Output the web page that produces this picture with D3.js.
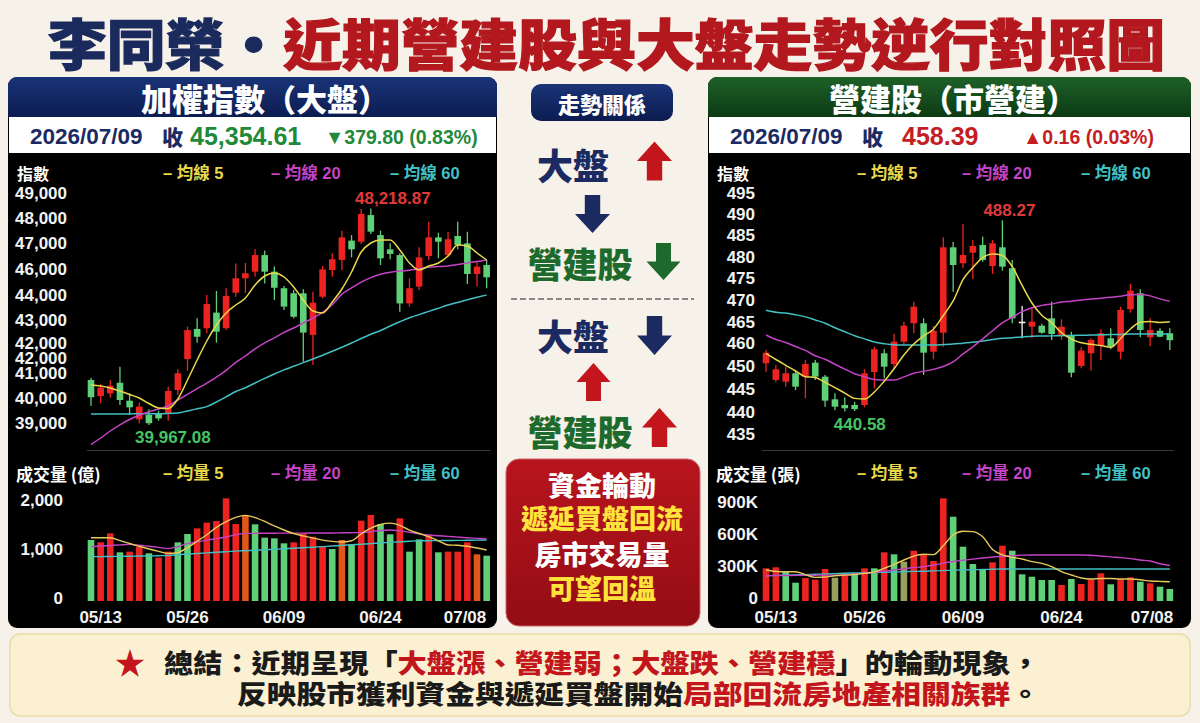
<!DOCTYPE html>
<html><head><meta charset="utf-8">
<script src="https://cdn.jsdelivr.net/npm/d3@7"></script>
<style>
html,body{margin:0;padding:0;background:#f6f2e9;}
svg{display:block;}
</style></head><body>
<svg id="c" width="1200" height="723"></svg>
<script>
// ---------------- DATA ----------------
const dates = ["05/12","05/13","05/14","05/15","05/18","05/19","05/20","05/21","05/22","05/25","05/26","05/27","05/28","05/29","06/01","06/02","06/03","06/04","06/05","06/08","06/09","06/10","06/11","06/12","06/15","06/16","06/17","06/18","06/22","06/23","06/24","06/25","06/26","06/29","06/30","07/01","07/02","07/03","07/06","07/07","07/08","07/09"];
const xTickLabels = ["05/13","05/26","06/09","06/24","07/08"];

// 加權指數 (TAIEX)
const taiexOpen  = [40870,40170,40290,40750,39970,39160,39350,39390,39420,40435,41780,43090,43120,43800,43120,44665,45290,45580,46300,45580,44860,44640,44640,42830,44490,45650,46090,46930,46880,48040,47170,46550,46300,44200,44930,46260,47070,46300,47130,46810,45480,45870];
const taiexHigh  = [40960,40700,40870,41450,40290,39880,39600,39535,40580,41335,43190,43550,44565,44740,44860,45940,45960,46550,46490,45800,44960,44780,44810,44710,45830,46380,47360,47170,48300,48330,47360,46810,46380,45290,46640,47750,47270,47320,47750,47320,46010,46090];
const taiexLow   = [39740,39860,40100,39780,39350,38990,38910,39100,39100,40220,41270,42490,42900,42490,43040,44490,44650,45360,45070,44350,43910,43550,41665,41520,44420,45360,45650,46200,46780,47220,45870,46120,43840,44060,44780,46090,46160,46230,46550,45040,44930,44860];
const taiexClose = [40120,40535,40620,40000,39680,39710,38990,39200,40390,41160,43040,42750,44170,42970,44520,45290,45510,46300,45580,44880,44060,43620,42930,44230,45680,46120,47070,46550,48090,47320,46160,46350,44200,44860,46200,47070,46880,46990,46740,45480,45800,45335];
const taiexMA5  = [40652,40609,40522,40391,40239,40087,39848,39652,39630,40043,40870,41739,42565,43261,43783,44130,44435,45000,45391,45522,45348,44913,44348,43870,43783,44261,44826,45565,46435,46826,46957,46957,46522,45957,45652,45826,45957,46261,46739,46696,46391,46087];
const taiexMA20 = [38065,38348,38652,38922,39152,39335,39487,39609,39748,40000,40248,40491,40735,40996,41287,41635,41913,42226,42483,42704,42939,43130,43348,43565,43809,44148,44604,44874,45126,45322,45465,45552,45609,45643,45709,45770,45800,45826,45891,45957,46017,46087];
const taiexMA60 = [39390,39390,39390,39390,39395,39400,39400,39405,39410,39435,39522,39617,39713,39913,40135,40370,40535,40739,40939,41130,41309,41465,41626,41783,41948,42117,42291,42478,42674,42857,43022,43217,43400,43574,43713,43852,43991,44130,44243,44357,44465,44565];
// printed y-axis labels of the reference and where they sit on the index scale
const taiexTickLabels = ["49,000","48,000","47,000","46,000","44,000","43,000","42,000","42,000","41,000","40,000","39,000"];
const taiexTickPos    = [49000,47913,46826,45696,44565,43478,42478,41826,41174,40087,39000];
const taiexHighLabel = "48,218.87", taiexLowLabel = "39,967.08";

// 成交量 (億)
const taiexVol    = [1245,1197,1381,993,1007,1109,973,884,1007,1197,1367,1483,1599,1633,2095,1571,1755,1565,1293,1279,1177,1197,1381,1313,1109,1061,1245,1156,1639,1755,1571,1361,1687,1007,1259,1347,993,1007,1007,1197,953,925];
const taiexVolDir = [-1,1,1,-1,1,1,-1,1,1,-1,-1,1,1,1,1,1,0,-1,-1,-1,-1,1,1,1,1,-1,0,-1,1,1,-1,-1,1,-1,-1,1,-1,1,1,1,0,-1];
const taiexVolMA5  = [1292,1292,1292,1231,1173,1116,1061,1012,971,986,1090,1220,1351,1504,1622,1708,1747,1702,1624,1531,1449,1378,1329,1282,1243,1216,1204,1229,1371,1486,1561,1590,1543,1445,1378,1312,1229,1143,1137,1116,1082,1041];
const taiexVolMA20 = [1108,1122,1133,1145,1155,1139,1116,1094,1069,1108,1171,1206,1243,1273,1306,1353,1380,1380,1382,1384,1385,1386,1386,1387,1388,1388,1392,1394,1396,1416,1439,1449,1431,1404,1373,1347,1333,1318,1304,1290,1278,1265];
const taiexVolMA60 = [904,906,908,912,914,918,920,924,929,945,959,969,982,994,1006,1018,1027,1035,1045,1055,1065,1076,1086,1098,1110,1122,1135,1147,1159,1171,1184,1196,1208,1220,1229,1231,1233,1235,1237,1239,1243,1245];
const taiexVolTicks = [0,1000,2000], taiexVolTickLabels = ["0","1,000","2,000"];

// 營建股 (市營建)
const consOpen  = [452.63,448.47,448.04,450.13,449.29,452.78,449.29,443.65,442.23,442.23,442.23,450.46,455.12,452.45,458.01,462.60,462.60,455.52,460.25,481.54,477.55,480.19,482.11,476.88,481.54,476.31,463.00,461.75,462.00,463.84,459.68,459.68,451.95,455.12,457.19,458.86,455.52,466.09,470.07,459.11,460.75,460.11];
const consHigh  = [455.94,452.20,451.78,450.96,453.45,453.45,449.71,445.15,444.15,443.06,451.13,456.77,456.12,459.93,463.00,467.98,463.84,461.92,484.03,482.94,487.35,483.36,484.18,483.36,488.27,478.38,466.91,466.59,462.50,467.98,463.59,460.50,456.62,458.86,461.10,461.35,466.74,472.39,471.07,463.84,461.35,461.35];
const consLow   = [450.53,448.04,446.80,445.97,443.90,448.47,441.81,440.90,440.58,440.75,441.66,446.40,448.89,451.38,457.19,460.11,449.71,453.62,456.76,470.47,476.31,473.56,477.95,474.89,475.71,462.60,458.86,458.86,460.00,458.44,458.44,449.14,451.38,450.78,453.45,456.12,453.62,465.24,459.11,456.94,459.11,455.94];
const consClose = [455.27,451.13,450.13,446.80,452.45,449.29,443.31,441.81,441.41,441.20,450.13,456.12,451.78,458.01,462.00,466.74,455.27,460.75,481.54,477.13,479.62,481.86,478.38,482.54,476.71,463.84,463.00,463.00,460.25,459.93,461.75,450.28,455.77,458.44,460.11,456.77,465.91,470.72,460.93,460.93,459.25,458.39];
const consMA5  = [455.10,453.57,452.13,450.71,449.29,449.09,447.87,446.57,445.20,443.88,443.73,445.47,448.17,451.26,454.70,457.44,459.48,461.13,464.54,468.16,473.51,476.51,478.97,479.85,479.50,476.71,472.04,467.66,464.59,462.75,460.23,458.66,457.74,457.36,457.04,456.62,458.81,461.18,462.85,463.02,462.77,462.97];
const consMA20 = [459.68,458.56,457.81,456.81,455.84,454.50,453.62,452.38,451.16,450.01,449.26,448.59,448.46,448.46,449.24,450.13,450.63,451.11,451.81,452.95,454.95,456.74,458.73,460.73,462.75,464.09,465.49,466.49,467.06,467.43,467.88,468.11,468.38,468.63,468.85,469.10,469.35,469.70,469.75,469.43,468.68,468.06];
const consMA60 = [465.84,465.36,465.14,464.72,464.19,463.42,462.62,461.50,460.48,459.51,458.71,457.91,457.51,457.24,457.19,457.19,457.19,457.19,457.29,457.41,457.64,457.86,458.16,458.53,458.86,459.01,459.21,459.38,459.43,459.46,459.51,459.56,459.61,459.67,459.73,459.78,459.83,459.91,459.93,459.93,459.93,459.93];
const consTickLabels = ["495","490","485","480","475","470","465","460","450","445","440","435"];
const consTickPos    = [495,489.84,484.61,479.20,473.81,468.40,463.00,457.61,452.03,446.22,440.56,435];
const consHighLabel = "488.27", consLowLabel = "440.58";

// 成交量 (張)
const consVol    = [306500,315900,274700,171600,215000,200000,300000,218400,250000,259400,306500,306500,456500,437800,368400,471600,437800,375000,962800,790300,509000,346900,300000,362800,518400,471600,250300,227800,196900,196900,150000,206200,159400,203400,259700,156600,206200,222200,181000,165900,134100,112500];
const consVolDir = [1,1,-1,-1,1,1,1,0,1,-1,1,-1,1,-1,0,1,1,1,1,-1,-1,-1,-1,1,1,-1,-1,-1,-1,-1,1,-1,1,1,1,-1,1,1,-1,1,-1,-1];
const consVolMA5  = [290600,276600,274700,274700,247500,221200,225000,236200,242800,248400,259700,271900,306600,343100,384400,420000,437800,435000,518400,618700,653400,650600,601900,481900,433100,409700,393700,369400,352500,322500,274700,243700,215600,206200,210900,210900,206200,206200,198700,187500,183700,180900];
const consVolMA20 = [237200,238100,239100,240000,240900,241900,242800,242800,243700,251200,260600,270000,279400,290600,301900,314100,321600,337500,354400,370300,381600,392800,403100,412500,420000,423800,430300,431200,431200,431200,431200,431200,431200,429400,421900,413400,406900,397500,384400,375000,348700,332800];
const consVolMA60 = [237200,240000,241900,244700,247500,251200,253100,256900,260600,262500,264400,267200,269100,271900,274700,277500,279400,282200,285000,288700,291600,293400,295300,297200,300000,300000,300000,300000,300000,300000,300000,300000,300000,300000,300000,300000,300000,300000,300000,300000,300000,300000];
const consVolTicks = [0,300000,600000,900000], consVolTickLabels = ["0","300K","600K","900K"];

// ---------------- DRAW ----------------
const CJK = "'Noto Sans CJK TC','Noto Sans CJK SC',sans-serif";
const NUM = "'Liberation Sans',Arial,'Noto Sans CJK TC',sans-serif";
const C = {red:"#ec2320", green:"#5fcf78", ma5:"#e9d84c", ma20:"#c444c6", ma60:"#43c0c4",
           navy:"#1b2b62", dgreen:"#1e6a2c", dred:"#c3151c"};
const svg = d3.select("#c");
const defs = svg.append("defs");
function grad(id, c1, c2){
  const g = defs.append("linearGradient").attr("id",id).attr("x1",0).attr("y1",0).attr("x2",0).attr("y2",1);
  g.append("stop").attr("offset","0%").attr("stop-color",c1);
  g.append("stop").attr("offset","100%").attr("stop-color",c2);
}
grad("gNavy","#1b3478","#0b1c50");
grad("gGreen","#1e6128","#0c3a14");
grad("gRed","#b8151e","#930c14");

svg.append("rect").attr("width",1200).attr("height",723).attr("fill","#f6f2e9");

// Title
const title = svg.append("text").attr("x",48).attr("y",40.5).attr("dominant-baseline","central")
  .attr("textLength",1117).attr("lengthAdjust","spacingAndGlyphs")
  .style("font-family",CJK).style("font-weight",900).style("font-size","55px")
  .style("stroke-width","1.2px").style("paint-order","stroke");
title.append("tspan").attr("fill","#1b2a5c").attr("stroke","#1b2a5c").text("李同榮・");
title.append("tspan").attr("fill","#b3181e").attr("stroke","#b3181e").text("近期營建股與大盤走勢逆行對照圖");

function styleText(sel, size, color, weight, fam){
  sel.style("font-family",fam||NUM).style("font-size",size+"px").style("font-weight",weight||700).attr("fill",color);
  return sel;
}

function drawPanel(p){
  const g = svg.append("g");
  const w = p.x1 - p.x0;
  g.append("rect").attr("x",p.x0).attr("y",77).attr("width",w).attr("height",551).attr("rx",9).attr("fill","#000");
  g.append("path").attr("d",`M${p.x0},117 V86 a9,9 0 0 1 9,-9 H${p.x1-9} a9,9 0 0 1 9,9 V117 Z`).attr("fill",p.headFill);
  styleText(g.append("text").attr("x",p.titleX).attr("y",97).attr("text-anchor","middle").attr("dominant-baseline","central").text(p.title),31,"#fff",900,CJK);
  g.append("rect").attr("x",p.x0+1).attr("y",117).attr("width",w-2).attr("height",36).attr("fill","#fff");
  // info row
  const iy = 136;
  styleText(g.append("text").attr("x",p.x0+22).attr("y",iy).attr("dominant-baseline","central").text(p.date),22.5,C.navy);
  styleText(g.append("text").attr("x",p.x0+154).attr("y",iy).attr("dominant-baseline","central").text("收"),21,C.navy,900,CJK);
  styleText(g.append("text").attr("x",p.x0+p.closeDx).attr("y",iy).attr("dominant-baseline","central").text(p.close),25,p.chgColor);
  styleText(g.append("text").attr("x",p.x0+p.chgDx).attr("y",iy+1).attr("dominant-baseline","central").text(p.change),19.5,p.chgColor);

  const x = d3.scalePoint().domain(dates).range(p.xRange);
  const y = d3.scaleLinear().domain(p.yDomain).range(p.yRange);
  const idx = d3.range(dates.length);

  // price chart header
  styleText(g.append("text").attr("x",p.x0+9).attr("y",173).attr("dominant-baseline","central").text("指數"),16,"#fff",700,CJK);
  const legend = (yy, word) => {
    [[p.leg[0],"5",C.ma5],[p.leg[1],"20",C.ma20],[p.leg[2],"60",C.ma60]].forEach(([lx,n,c])=>{
      styleText(g.append("text").attr("x",lx).attr("y",yy).attr("dominant-baseline","central").text("– "+word+" "+n),16.5,c);
    });
  };
  legend(173,"均線");

  const yAxis = d3.axisLeft(y).tickValues(p.tickPos).tickFormat((d,i)=>p.tickLabels[i]).tickSize(0).tickPadding(0);
  const ya = g.append("g").attr("transform",`translate(${p.yAxisX},0)`).call(yAxis);
  ya.select(".domain").remove();
  styleText(ya.selectAll("text"),17,"#f2f2f2");

  g.append("line").attr("x1",p.xRange[0]-4).attr("x2",p.xRange[1]+4).attr("y1",450.5).attr("y2",450.5).attr("stroke","#3a3a3a").attr("stroke-width",1.2);

  const col = i => p.close_[i] > p.open_[i] ? C.red : (p.close_[i] < p.open_[i] ? C.green : "#f4f4f4");
  const cw = 6.6;
  g.append("g").selectAll("line").data(idx).join("line")
    .attr("x1",i=>x(dates[i])).attr("x2",i=>x(dates[i]))
    .attr("y1",i=>y(p.high[i])).attr("y2",i=>y(p.low[i]))
    .attr("stroke",col).attr("stroke-width",1.3);
  g.append("g").selectAll("rect").data(idx).join("rect")
    .attr("x",i=>x(dates[i])-cw/2).attr("width",cw)
    .attr("y",i=>y(Math.max(p.open_[i],p.close_[i])))
    .attr("height",i=>Math.max(1.6,Math.abs(y(p.open_[i])-y(p.close_[i]))))
    .attr("fill",col);

  const ln = arr => d3.line().x((d,i)=>x(dates[i])).y(d=>y(d)).curve(d3.curveMonotoneX)(arr);
  [[p.ma60,C.ma60],[p.ma20,C.ma20],[p.ma5,C.ma5]].forEach(([a,c])=>{
    g.append("path").attr("d",ln(a)).attr("fill","none").attr("stroke",c).attr("stroke-width",1.5);
  });

  // high / low annotations
  const hi = d3.maxIndex(p.high), lo = d3.minIndex(p.low);
  styleText(g.append("text").attr("x",x(dates[hi])+p.hiDx).attr("y",y(p.high[hi])-10).attr("text-anchor","middle").attr("dominant-baseline","central").text(p.hiLabel),17,"#e0393a");
  styleText(g.append("text").attr("x",x(dates[lo])+p.loDx).attr("y",y(p.low[lo])+p.loDy).attr("text-anchor","middle").attr("dominant-baseline","central").text(p.loLabel),17,"#47c463");

  // volume
  const yv = d3.scaleLinear().domain(p.vDomain).range([601,p.vTop]);
  styleText(g.append("text").attr("x",p.x0+8).attr("y",473).attr("dominant-baseline","central").text(p.volTitle),17,"#fff",700,CJK);
  legend(473,"均量");
  const va = g.append("g").attr("transform",`translate(${p.vAxisX},0)`)
    .call(d3.axisLeft(yv).tickValues(p.vTicks).tickFormat((d,i)=>p.vTickLabels[i]).tickSize(0).tickPadding(0));
  va.select(".domain").remove();
  styleText(va.selectAll("text"),17,"#f2f2f2").attr("y",-2.5);

  const vcol = i => p.vDir[i] > 0 ? C.red : (p.vDir[i] < 0 ? C.green : p.neutral);
  g.append("g").selectAll("rect").data(idx).join("rect")
    .attr("x",i=>x(dates[i])-3.3).attr("width",6.6)
    .attr("y",i=>yv(p.vol[i])).attr("height",i=>yv(0)-yv(p.vol[i]))
    .attr("fill",vcol);
  const lv = arr => d3.line().x((d,i)=>x(dates[i])).y(d=>yv(d)).curve(d3.curveMonotoneX)(arr);
  [[p.vma60,C.ma60],[p.vma20,C.ma20],[p.vma5,"#e7c95a"]].forEach(([a,c])=>{
    g.append("path").attr("d",lv(a)).attr("fill","none").attr("stroke",c).attr("stroke-width",1.4);
  });

  const xa = g.append("g").attr("transform","translate(0,617)")
    .call(d3.axisBottom(x).tickValues(xTickLabels).tickSize(0).tickPadding(0));
  xa.select(".domain").remove();
  xa.selectAll(".tick").attr("transform",d=>`translate(${Math.min(x(d),p.lastLabelX)},0)`);
  styleText(xa.selectAll("text"),17,"#f2f2f2").attr("dy","0.35em").attr("y",0);
}

drawPanel({
  x0:8, x1:497, headFill:"url(#gNavy)", title:"加權指數（大盤）", titleX:265,
  date:"2026/07/09", close:"45,354.61", change:"▼379.80 (0.83%)", chgColor:"#1f8a3a", closeDx:182, chgDx:317,
  xRange:[91,486.65], yDomain:[39000,49000], yRange:[423,193], yAxisX:67,
  tickPos:taiexTickPos, tickLabels:taiexTickLabels,
  open_:taiexOpen, high:taiexHigh, low:taiexLow, close_:taiexClose,
  ma5:taiexMA5, ma20:taiexMA20, ma60:taiexMA60,
  hiLabel:taiexHighLabel, loLabel:taiexLowLabel, hiDx:22, loDx:24, loDy:12,
  leg:[163,271,390], volTitle:"成交量 (億)",
  vDomain:[0,2000], vTop:503, vAxisX:63, vTicks:taiexVolTicks, vTickLabels:taiexVolTickLabels,
  vol:taiexVol, vDir:taiexVolDir, vma5:taiexVolMA5, vma20:taiexVolMA20, vma60:taiexVolMA60, neutral:"#e2561c",
  lastLabelX:465
});
drawPanel({
  x0:708, x1:1191, headFill:"url(#gGreen)", title:"營建股（市營建）", titleX:953,
  date:"2026/07/09", close:"458.39", change:"▲0.16 (0.03%)", chgColor:"#c41e24", closeDx:194, chgDx:315,
  xRange:[766,1169.85], yDomain:[435,495], yRange:[434,193.3], yAxisX:755,
  tickPos:consTickPos, tickLabels:consTickLabels,
  open_:consOpen, high:consHigh, low:consLow, close_:consClose,
  ma5:consMA5, ma20:consMA20, ma60:consMA60,
  hiLabel:consHighLabel, loLabel:consLowLabel, hiDx:7, loDx:15, loDy:13,
  leg:[857,962,1081], volTitle:"成交量 (張)",
  vDomain:[0,900000], vTop:505, vAxisX:758, vTicks:consVolTicks, vTickLabels:consVolTickLabels,
  vol:consVol, vDir:consVolDir, vma5:consVolMA5, vma20:consVolMA20, vma60:consVolMA60, neutral:"#97a05e",
  lastLabelX:1152
});

// ---------------- MIDDLE COLUMN ----------------
const mid = svg.append("g");
mid.append("rect").attr("x",531).attr("y",84).attr("width",142).attr("height",37).attr("rx",10).attr("fill","url(#gNavy)");
styleText(mid.append("text").attr("x",602).attr("y",103).attr("text-anchor","middle").attr("dominant-baseline","central").text("走勢關係"),22,"#fff",900,CJK);

function arrow(cx, cy, w, h, dir, fill){
  const s = dir === "up" ? 1 : -1;
  const tip = cy - s*h/2, base = cy + s*h/2, neck = tip + s*h*0.5, sw = w*0.44;
  const pts = [[cx,tip],[cx+w/2,neck],[cx+sw/2,neck],[cx+sw/2,base],[cx-sw/2,base],[cx-sw/2,neck],[cx-w/2,neck]];
  mid.append("path").attr("d","M"+pts.map(p=>p.join(",")).join("L")+"Z").attr("fill",fill);
}
function bigWord(t, cx, cy, color, size){
  styleText(mid.append("text").attr("x",cx).attr("y",cy).attr("text-anchor","middle").attr("dominant-baseline","central").text(t),size,color,900,CJK);
}
bigWord("大盤",573,164,C.navy,36);
arrow(654.5,161,35,39,"up",C.dred);
arrow(592.5,214,35,38,"down",C.navy);
bigWord("營建股",580,262,C.dgreen,35);
arrow(663.5,261.5,34,37,"down",C.dgreen);
mid.append("line").attr("x1",511).attr("x2",694).attr("y1",299).attr("y2",299).attr("stroke","#666").attr("stroke-width",1.4).attr("stroke-dasharray","6,3");
bigWord("大盤",573,335,C.navy,36);
arrow(654.5,335.5,35,39,"down",C.navy);
arrow(593.5,382,34,38,"up",C.dred);
bigWord("營建股",580,430,C.dgreen,35);
arrow(659.5,427.5,35,39,"up",C.dred);

mid.append("rect").attr("x",506).attr("y",459).attr("width",194).attr("height",167).attr("rx",13).attr("fill","url(#gRed)").attr("stroke","#d0636a").attr("stroke-width",1);
[["資金輪動","#ffffff",484],["遞延買盤回流","#ffe33c",517],["房市交易量","#ffffff",553],["可望回溫","#ffe33c",587]].forEach(([t,c,yy])=>{
  styleText(mid.append("text").attr("x",602).attr("y",yy).attr("text-anchor","middle").attr("dominant-baseline","central").text(t),27,c,900,CJK);
});

// ---------------- SUMMARY ----------------
const sum = svg.append("g");
sum.append("rect").attr("x",10).attr("y",634).attr("width",1180).attr("height",82).attr("rx",10).attr("fill","#fbf1d2").attr("stroke","#eadba8").attr("stroke-width",1.5);
styleText(sum.append("text").attr("x",130).attr("y",661).attr("text-anchor","middle").attr("dominant-baseline","central").text("★"),30,C.dred,900,CJK);
const l1 = styleText(sum.append("text").attr("x",164).attr("y",661).attr("dominant-baseline","central")
  .attr("textLength",876).attr("lengthAdjust","spacingAndGlyphs"),26,"#1a1a1a",900,CJK);
l1.append("tspan").text("總結：近期呈現「");
l1.append("tspan").attr("fill",C.dred).text("大盤漲、營建弱；大盤跌、營建穩");
l1.append("tspan").text("」的輪動現象，");
const l2 = styleText(sum.append("text").attr("x",237).attr("y",692).attr("dominant-baseline","central")
  .attr("textLength",803).attr("lengthAdjust","spacingAndGlyphs"),26,"#1a1a1a",900,CJK);
l2.append("tspan").text("反映股市獲利資金與遞延買盤開始");
l2.append("tspan").attr("fill",C.dred).text("局部回流房地產相關族群");
l2.append("tspan").text("。");
</script>
</body></html>
